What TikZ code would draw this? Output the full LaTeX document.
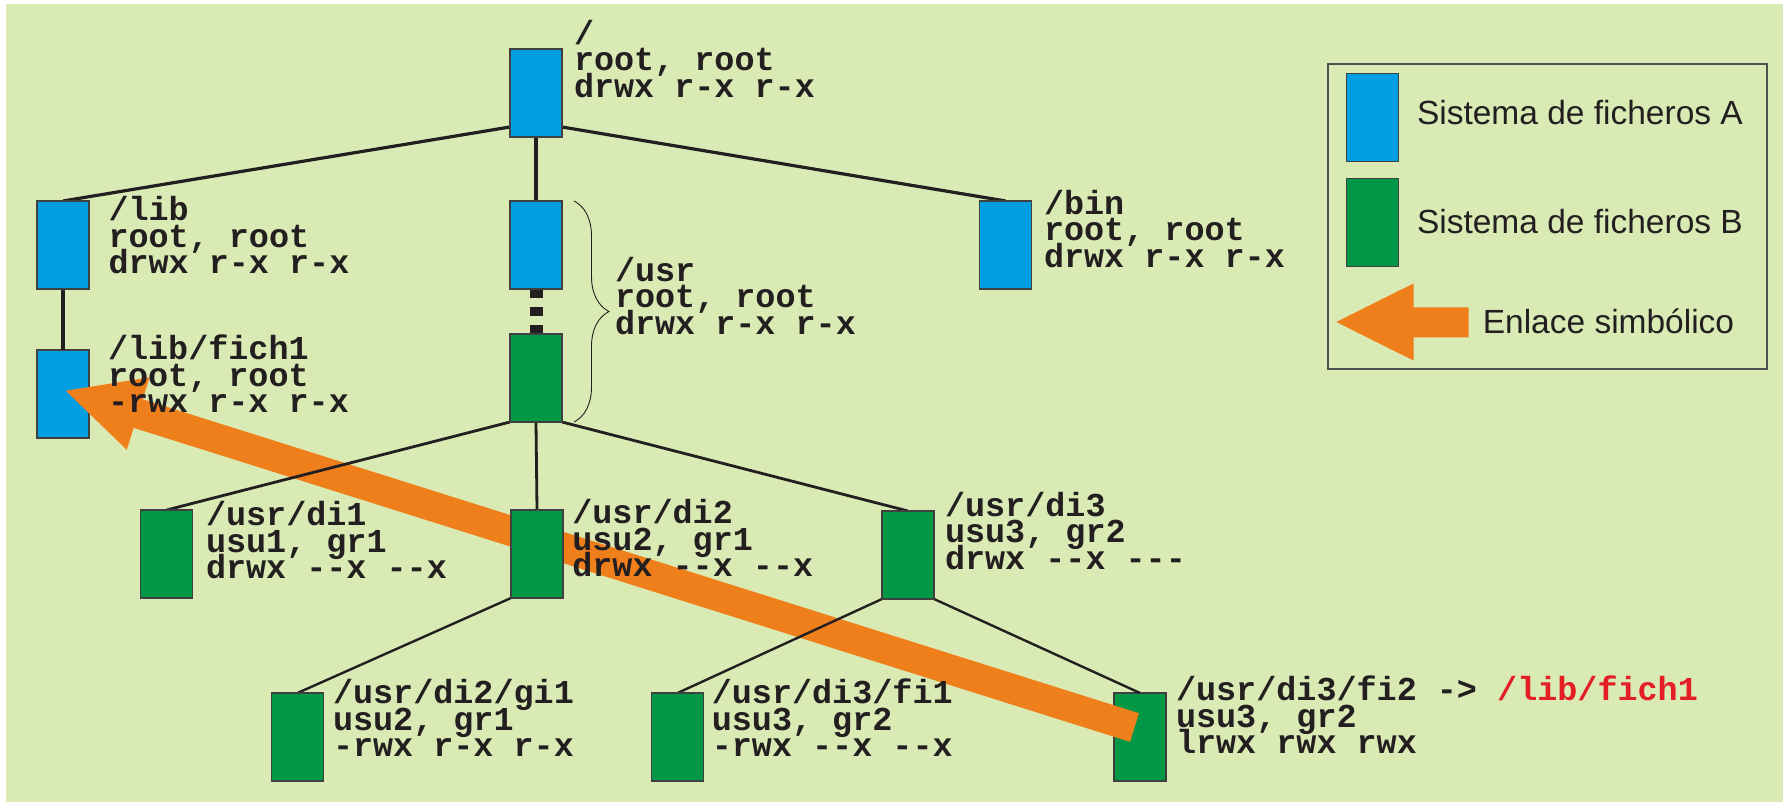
\documentclass[tikz,border=0pt]{standalone}
\usepackage{fontspec}
\setmainfont{Liberation Sans}
\setmonofont{Liberation Mono}
\usetikzlibrary{calc,decorations.pathreplacing}
\definecolor{bgc}{RGB}{218,234,180}
\definecolor{fsblue}{RGB}{0,159,227}
\definecolor{fsgreen}{RGB}{0,152,70}
\definecolor{linkorange}{RGB}{239,127,26}
\definecolor{txt}{RGB}{35,31,32}
\definecolor{linkred}{RGB}{227,30,36}
\definecolor{framec}{RGB}{80,80,80}
\newcommand{\threel}[3]{\vtop{\baselineskip=26.5pt\lineskiplimit=-1000pt\lineskip=0pt\hbox{#1}\hbox{#2}\hbox{#3}}}
\pgfdeclarelayer{back}
\pgfdeclarelayer{lowbox}
\pgfdeclarelayer{arrowlayer}
\pgfdeclarelayer{lines}
\pgfsetlayers{back,lowbox,arrowlayer,lines,main}
\tikzset{
  fsbox/.style={draw=black!75, line width=1.2pt, minimum width=52pt, minimum height=88pt, inner sep=0pt, outer sep=0pt},
  fsA/.style={fsbox, fill=fsblue},
  fsB/.style={fsbox, fill=fsgreen},
  info/.style={anchor=base west, inner sep=0pt, outer sep=0pt, text=txt, font=\ttfamily\bfseries\fontsize{33.45pt}{26.5pt}\selectfont},
  legtext/.style={anchor=base west, inner sep=0pt, outer sep=0pt, text=txt, font=\fontsize{33.5pt}{40pt}\selectfont},
  treeU/.style={draw=txt, line width=3.2pt},
  treeM/.style={draw=txt, line width=2.8pt},
  treeL/.style={draw=txt, line width=2.4pt},
  dotlink/.style={draw=txt, line width=13pt, dash pattern=on 9.5pt off 8.5pt},
  bracestyle/.style={draw=txt, line width=0.9pt, decorate, decoration={brace, amplitude=35pt}},
}
\begin{document}
\begin{tikzpicture}[x=1pt,y=-1pt]
\useasboundingbox (0,0) rectangle (1783,802);
\begin{pgfonlayer}{back}
  \fill[white] (0,0) rectangle (1783,802);
  \fill[bgc] (6,4) rectangle (1783,802);
\end{pgfonlayer}

% boxes that lie under the link arrow
\begin{pgfonlayer}{lowbox}
  \node[fsA] (fich1) at (63,394) {};
  \node[fsB] (fi2) at (1140,737) {};
\end{pgfonlayer}

% other boxes
\node[fsA] (root) at (536,93) {};
\node[fsA] (lib) at (63,245) {};
\node[fsA] (usrA) at (536,245) {};
\node[fsB] (usrB) at (536,378) {};
\node[fsA] (bin) at (1005.5,245) {};
\node[fsB] (di1) at (166.6,554) {};
\node[fsB] (di2) at (537,554) {};
\node[fsB] (di3) at (908,555) {};
\node[fsB] (gi1) at (297.5,737) {};
\node[fsB] (fi1) at (677.6,737) {};

% texts
\node[info] (troot) at (574,44.3) {\threel{/}{root, root}{drwx r-x r-x}};
\node[info] (tlib) at (108.5,221) {\threel{/lib}{root, root}{drwx r-x r-x}};
\node[info] (tbin) at (1044,214.5) {\threel{/bin}{root, root}{drwx r-x r-x}};
\node[info] (tusr) at (615,281.3) {\threel{/usr}{root, root}{drwx r-x r-x}};
\node[info] (tfich1) at (108,359.5) {\threel{/lib/fich1}{root, root}{-rwx r-x r-x}};
\node[info] (tdi1) at (206,525.5) {\threel{/usr/di1}{usu1, gr1}{drwx --x --x}};
\node[info] (tdi2) at (572.3,523.5) {\threel{/usr/di2}{usu2, gr1}{drwx --x --x}};
\node[info] (tdi3) at (945,516) {\threel{/usr/di3}{usu3, gr2}{drwx --x ---}};
\node[info] (tgi1) at (333,703.5) {\threel{/usr/di2/gi1}{usu2, gr1}{-rwx r-x r-x}};
\node[info] (tfi1) at (711.8,703.5) {\threel{/usr/di3/fi1}{usu3, gr2}{-rwx --x --x}};
\node[info] (tfi2) at (1176,700.5) {\threel{/usr/di3/fi2 -> \textcolor{linkred}{/lib/fich1}}{usu3, gr2}{lrwx rwx rwx}};

% tree connectors
\begin{pgfonlayer}{lines}
  \draw[treeU] ($(root.south west)+(0,-10)$) -- (lib.north);
  \draw[treeU] ($(root.south east)+(0,-10)$) -- (bin.north);
  \draw[treeU] (root.south) -- (usrA.north);
  \draw[treeU] (lib.south) -- (fich1.north);
  \draw[dotlink] (usrA.south) -- (usrB.north);
  \draw[treeM] (usrB.south west) -- (di1.north);
  \draw[treeM] (usrB.south) -- (di2.north);
  \draw[treeM] (usrB.south east) -- (di3.north);
  \draw[treeL] (di2.south west) -- (gi1.north);
  \draw[treeL] (di3.south west) -- (fi1.north);
  \draw[treeL] (di3.south east) -- (fi2.north);
  \draw[bracestyle] ($(usrA.north east)+(12,0)$) -- ($(usrB.south east)+(12,0)$);
\end{pgfonlayer}

% symbolic link arrow
\begin{pgfonlayer}{arrowlayer}
  \coordinate (linkstart) at ($(fi2.center)+(-5.5,-9.5)$);
  \coordinate (linkend) at ($(fich1.center)+(2.7,-3.3)$);
  \coordinate (linkhead) at ($(linkend)!76pt!(linkstart)$);
  \fill[linkorange] (linkend)
    -- ($(linkhead)!38pt!90:(linkstart)$)
    -- ($(linkhead)!15pt!90:(linkstart)$)
    -- ($(linkstart)!15pt!-90:(linkend)$)
    -- ($(linkstart)!15pt!90:(linkend)$)
    -- ($(linkhead)!15pt!-90:(linkstart)$)
    -- ($(linkhead)!38pt!-90:(linkstart)$)
    -- cycle;
\end{pgfonlayer}

% legend
\node[draw=framec, line width=1.4pt, minimum width=439pt, minimum height=305pt, inner sep=0pt] (legend) at (1547.5,216.6) {};
\node[fsA] (legA) at (1372.4,117.5) {};
\node[fsB] (legB) at (1372.4,222.8) {};
\node[legtext] (legAt) at (1417,125) {Sistema de ficheros A};
\node[legtext] (legBt) at (1417,233.3) {Sistema de ficheros B};
\node[legtext] (legCt) at (1482.8,333.3) {Enlace simbólico};
\fill[linkorange] (1336.4,322) -- (1413.5,283.5) -- (1413.5,307.3) -- (1468.7,307.3) -- (1468.7,337.3) -- (1413.5,337.3) -- (1413.5,360.5) -- cycle;
\end{tikzpicture}
\end{document}
